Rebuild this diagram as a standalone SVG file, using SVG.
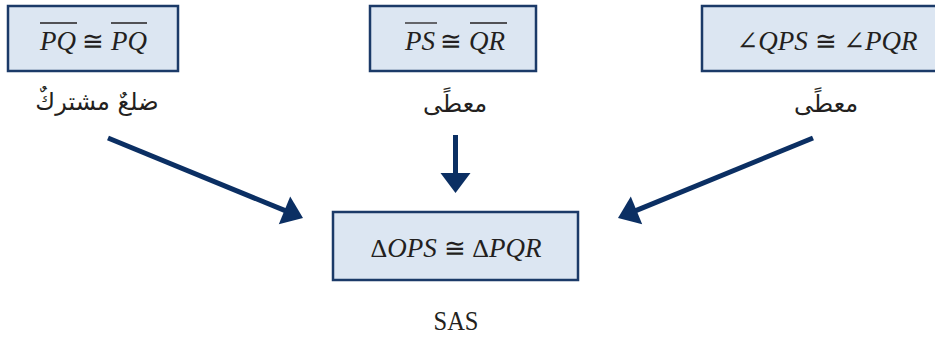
<svg xmlns="http://www.w3.org/2000/svg" width="935" height="341" viewBox="0 0 935 341">
<style>
.box{fill:#dce6f2;stroke:#1b3a68;stroke-width:2.5}
.math{font-family:"Liberation Serif","DejaVu Serif",serif;font-size:27px;font-style:italic;fill:#231f20}
.sym{font-family:"Liberation Serif","DejaVu Serif",serif;font-size:26px;font-style:normal;fill:#231f20}
.ar{font-family:"DejaVu Sans","Noto Sans",sans-serif;font-size:24px;fill:#231f20}
.ol{stroke:#231f20;stroke-width:1.3}
.conn{stroke:#0b2f63;stroke-width:5;fill:none}
</style>
<defs>
<marker id="ah" markerUnits="userSpaceOnUse" viewBox="-10 -16 24 32" markerWidth="24" markerHeight="32" refX="0" refY="0" orient="auto" overflow="visible">
<path d="M-8,-15 L12,0 L-8,15 Z" fill="#0b2f63"/>
</marker>
</defs>
<g id="n1">
<rect class="box" x="8" y="6" width="170" height="65"/>
<text class="math" x="40" y="50">PQ</text>
<text class="sym" x="93" y="50" text-anchor="middle">≅</text>
<text class="math" x="111" y="50">PQ</text>
<line class="ol" x1="40" y1="23" x2="77" y2="23"/>
<line class="ol" x1="111" y1="23" x2="147" y2="23"/>
<text class="ar" x="97" y="110" text-anchor="middle" direction="rtl">ضلعٌ مشتركٌ</text>
</g>
<g id="n2">
<rect class="box" x="370" y="6" width="166" height="65"/>
<text class="math" x="405" y="50">PS</text>
<text class="sym" x="451" y="50" text-anchor="middle">≅</text>
<text class="math" x="469" y="50">QR</text>
<line class="ol" x1="405" y1="23" x2="437" y2="23"/>
<line class="ol" x1="470" y1="23" x2="507" y2="23"/>
<text class="ar" x="455" y="112" text-anchor="middle" direction="rtl">معطًى</text>
</g>
<g id="n3">
<rect class="box" x="702" y="6" width="240" height="65"/>
<text class="math" x="827" y="50" text-anchor="middle"><tspan class="sym">∠</tspan>QPS <tspan class="sym">≅</tspan> <tspan class="sym">∠</tspan>PQR</text>
<text class="ar" x="826" y="112" text-anchor="middle" direction="rtl">معطًى</text>
</g>
<g id="n4">
<rect class="box" x="333" y="212" width="245" height="68"/>
<text class="math" x="456" y="257" text-anchor="middle"><tspan class="sym">Δ</tspan>OPS <tspan class="sym">≅</tspan> <tspan class="sym">Δ</tspan>PQR</text>
<text x="456" y="330" text-anchor="middle" font-family="'Liberation Serif', serif" font-size="27" fill="#231f20" textLength="45" lengthAdjust="spacingAndGlyphs">SAS</text>
</g>
<g id="connectors">
<line class="conn" x1="108" y1="138" x2="291.9" y2="213.4" marker-end="url(#ah)"/>
<line class="conn" x1="813" y1="138" x2="629.1" y2="213.4" marker-end="url(#ah)"/>
<line class="conn" x1="455.5" y1="135" x2="455.5" y2="181" marker-end="url(#ah)"/>
</g>
</svg>
